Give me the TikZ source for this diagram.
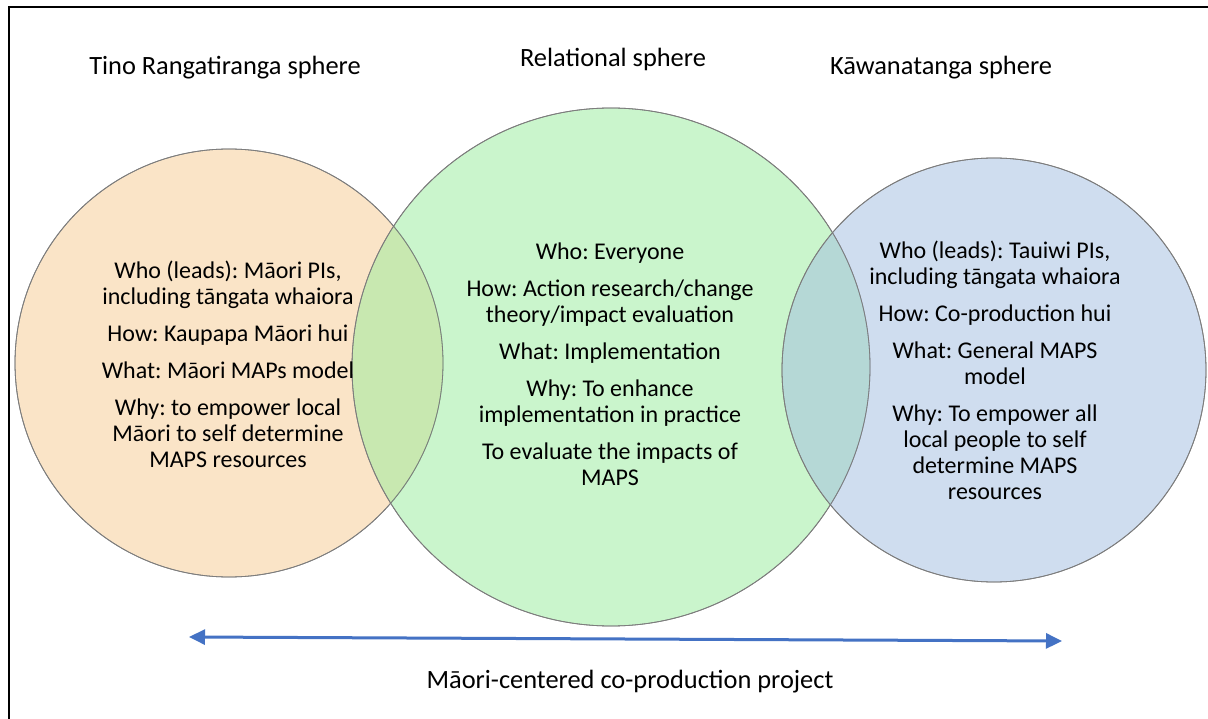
\documentclass[tikz,border=0pt]{standalone}
\usepackage{fontspec}
\setmainfont{Carlito}
\frenchspacing
\usetikzlibrary{arrows.meta}
\definecolor{ringline}{RGB}{125,125,125}
\definecolor{tinofill}{RGB}{247,203,145}
\definecolor{relfill}{RGB}{151,237,155}
\definecolor{kawafill}{RGB}{161,189,225}
\definecolor{spanblue}{RGB}{68,114,196}
\tikzset{
  sphere/.style={draw=ringline, line width=0.8pt, fill opacity=0.5},
  heading/.style={anchor=base, font=\fontsize{26.4}{30}\selectfont},
  bodytext/.style={anchor=base, align=center, font=\fontsize{24}{26}\selectfont, inner sep=0pt},
  span/.style={draw=spanblue, line width=3pt, {Triangle[length=16pt,width=15pt]}-{Triangle[length=16pt,width=15pt]}}
}
\begin{document}
\begin{tikzpicture}[x=1pt,y=-1pt]
\useasboundingbox (0,0) rectangle (1208,719);
\fill[white] (0,0) rectangle (1208,719);
% outer frame (left and top edges)
\draw[line width=2pt] (9,719) -- (9,7) -- (1208,7);

% the three spheres
\fill[tinofill, sphere] (229,363) circle (214);
\fill[relfill, sphere] (611,367) circle (259);
\fill[kawafill, sphere] (994,370) circle (212);
\draw[ringline, line width=0.8pt] (229,363) circle (214);
\draw[ringline, line width=0.8pt] (611,367) circle (259);
\draw[ringline, line width=0.8pt] (994,370) circle (212);

% headings
\node[heading] (tino) at (225,75) {Tino Rangatiranga sphere};
\node[heading] (rel) at (613,67) {Relational sphere};
\node[heading] (kawa) at (941,75) {Kāwanatanga sphere};

% contents of each sphere (base anchor sits on the last line)
\node[bodytext] (tinotext) at (228,467) {Who (leads): Māori PIs,\\including tāngata whaiora\\[11pt]How: Kaupapa Māori hui\\[11pt]What: Māori MAPs model\\[11pt]Why: to empower local\\Māori to self determine\\MAPS resources};
\node[bodytext] (reltext) at (610,485) {Who: Everyone\\[11pt]How: Action research/change\\theory/impact evaluation\\[11pt]What: Implementation\\[11pt]Why: To enhance\\implementation in practice\\[11pt]To evaluate the impacts of\\MAPS};
\node[bodytext] (kawatext) at (995,499) {Who (leads): Tauiwi PIs,\\including tāngata whaiora\\[11pt]How: Co-production hui\\[11pt]What: General MAPS\\model\\[11pt]Why: To empower all\\local people to self\\determine MAPS\\resources};

% project span
\coordinate (spanL) at (189,637);
\coordinate (spanR) at (1062,641);
\draw[span] (spanL) -- (spanR);
\node[heading] (project) at (630,688) {Māori-centered co-production project};
\end{tikzpicture}
\end{document}
